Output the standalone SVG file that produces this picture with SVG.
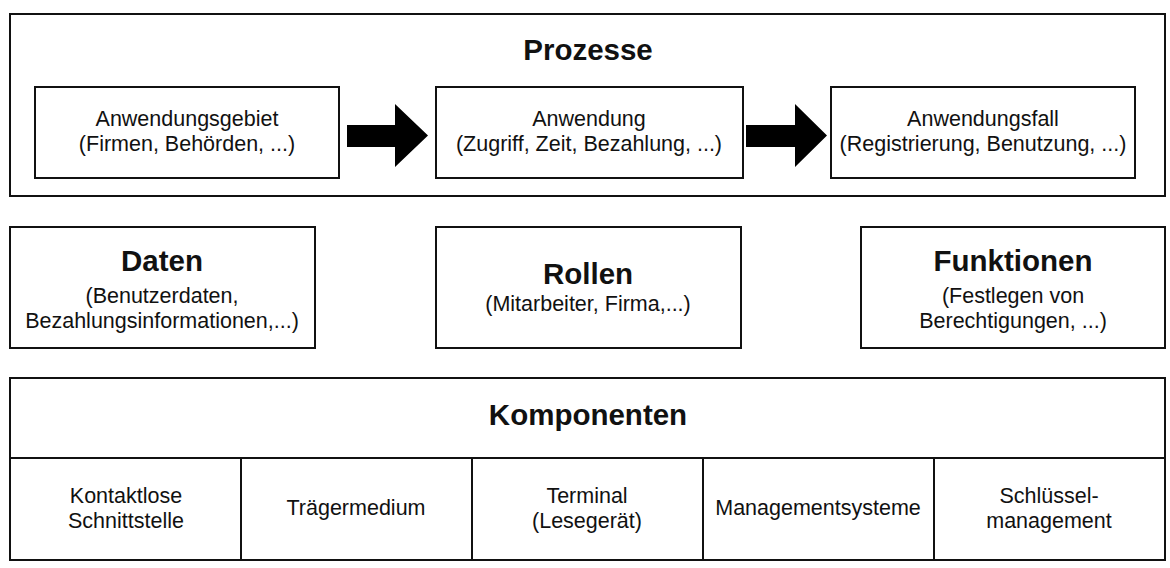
<svg xmlns="http://www.w3.org/2000/svg" width="1170" height="568" viewBox="0 0 1170 568">
<style>
.box{fill:#fff;stroke:#111;stroke-width:2}
.ln{stroke:#111;stroke-width:2;fill:none}
.t{font-family:"Liberation Sans",Arial,sans-serif;font-size:21.5px;fill:#111;text-anchor:middle}
.h{font-family:"Liberation Sans",Arial,sans-serif;font-size:29.5px;font-weight:bold;fill:#111;text-anchor:middle}
.arr{fill:#000}
</style>
<rect width="1170" height="568" fill="#fff"/>
<g id="prozesse">
<rect class="box" x="10" y="14" width="1155" height="182"/>
<text class="h" x="588" y="60">Prozesse</text>
</g>
<g id="anwendungsgebiet">
<rect class="box" x="35" y="87" width="304" height="91"/>
<text class="t" x="187" y="126">Anwendungsgebiet</text>
<text class="t" x="187" y="151">(Firmen, Behörden, ...)</text>
</g>
<g id="anwendung">
<rect class="box" x="436" y="87" width="307" height="91"/>
<text class="t" x="589" y="126">Anwendung</text>
<text class="t" x="589" y="151">(Zugriff, Zeit, Bezahlung, ...)</text>
</g>
<g id="anwendungsfall">
<rect class="box" x="831" y="87" width="304" height="91"/>
<text class="t" x="983" y="126">Anwendungsfall</text>
<text class="t" x="983" y="151">(Registrierung, Benutzung, ...)</text>
</g>
<g id="connectors">
<polygon class="arr" points="347,125 395,125 395,104 428,135.5 395,167 395,147 347,147"/>
<polygon class="arr" points="746,125 795,125 795,104 827,135.5 795,167 795,147 746,147"/>
</g>
<g id="daten">
<rect class="box" x="10" y="227" width="305" height="121"/>
<text class="h" x="162" y="271">Daten</text>
<text class="t" x="162" y="303">(Benutzerdaten,</text>
<text class="t" x="162" y="328">Bezahlungsinformationen,...)</text>
</g>
<g id="rollen">
<rect class="box" x="436" y="227" width="305" height="121"/>
<text class="h" x="588" y="284">Rollen</text>
<text class="t" x="588" y="311">(Mitarbeiter, Firma,...)</text>
</g>
<g id="funktionen">
<rect class="box" x="861" y="227" width="304" height="121"/>
<text class="h" x="1013" y="271">Funktionen</text>
<text class="t" x="1013" y="303">(Festlegen von</text>
<text class="t" x="1013" y="328">Berechtigungen, ...)</text>
</g>
<g id="komponenten">
<rect class="box" x="10" y="378" width="1155" height="182"/>
<line class="ln" x1="10" y1="458" x2="1165" y2="458"/>
<text class="h" x="588" y="425">Komponenten</text>
</g>
<g id="kontaktlose">
<line class="ln" x1="241" y1="458" x2="241" y2="560"/>
<text class="t" x="126" y="503">Kontaktlose</text>
<text class="t" x="126" y="528">Schnittstelle</text>
</g>
<g id="traegermedium">
<line class="ln" x1="472" y1="458" x2="472" y2="560"/>
<text class="t" x="356" y="515">Trägermedium</text>
</g>
<g id="terminal">
<line class="ln" x1="703" y1="458" x2="703" y2="560"/>
<text class="t" x="587" y="503">Terminal</text>
<text class="t" x="587" y="528">(Lesegerät)</text>
</g>
<g id="managementsysteme">
<line class="ln" x1="934" y1="458" x2="934" y2="560"/>
<text class="t" x="818" y="515">Managementsysteme</text>
</g>
<g id="schluessel">
<text class="t" x="1049" y="503">Schlüssel-</text>
<text class="t" x="1049" y="528">management</text>
</g>
</svg>
